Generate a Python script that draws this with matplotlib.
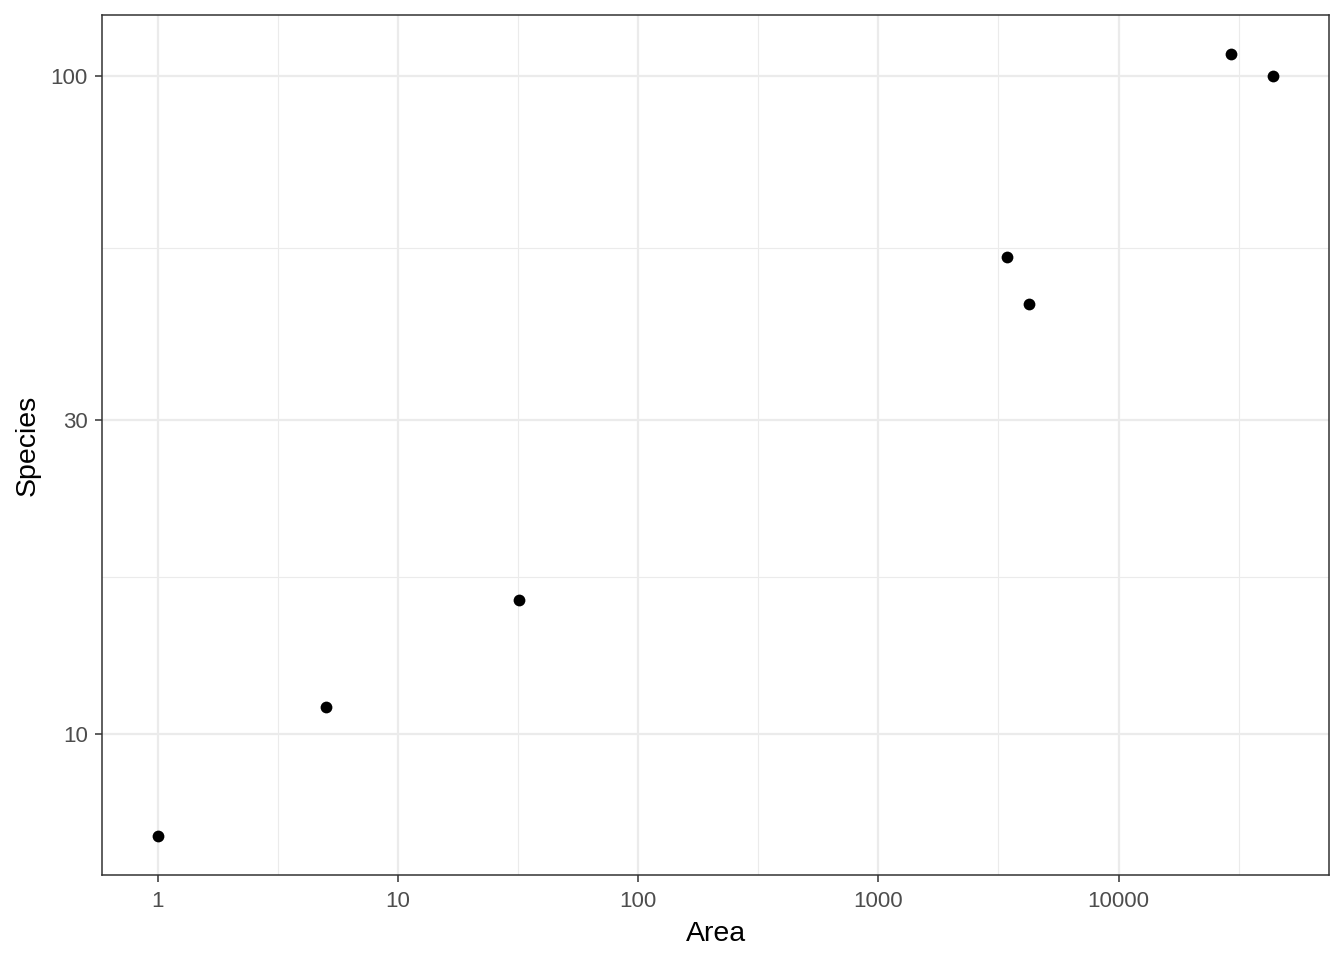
import matplotlib
matplotlib.use("Agg")
import matplotlib.pyplot as plt
import numpy as np

plt.rcParams["font.family"] = ["Liberation Sans", "DejaVu Sans"]

area = [1, 5, 32, 3444, 4254, 29450, 44060]
species = [7, 11, 16, 53, 45, 108, 100]
x_ticks = [1, 10, 100, 1000, 10000]
x_labels = ["1", "10", "100", "1000", "10000"]
y_ticks = [10, 30, 100]
y_labels = ["10", "30", "100"]

fig = plt.figure(figsize=(13.44, 9.6), dpi=100)
ax = fig.add_axes([102/1344, 1 - 875/960, (1329-102)/1344, (875-15)/960])
ax.set_xscale("log")
ax.set_yscale("log")

lx = np.log10(area); ly = np.log10(species)
ex = (lx.max() - lx.min()) * 0.05
ey = (ly.max() - ly.min()) * 0.05
ax.set_xlim(10**(lx.min() - ex), 10**(lx.max() + ex))
ax.set_ylim(10**(ly.min() - ey), 10**(ly.max() + ey))

# minor gridlines at log-midpoints between major breaks
lxt = np.log10(x_ticks); lyt = np.log10(y_ticks)
xminor = [10**((a + b) / 2) for a, b in zip(lxt[:-1], lxt[1:])]
xminor += [10**(lxt[-1] + 0.5)]
yminor = [10**((a + b) / 2) for a, b in zip(lyt[:-1], lyt[1:])]
for v in xminor:
    ax.axvline(v, color="#EBEBEB", lw=0.8, zorder=0)
for v in yminor:
    ax.axhline(v, color="#EBEBEB", lw=0.8, zorder=0)
for v in x_ticks:
    ax.axvline(v, color="#EBEBEB", lw=1.6, zorder=0)
for v in y_ticks:
    ax.axhline(v, color="#EBEBEB", lw=1.6, zorder=0)

ax.scatter(area, species, s=72, color="black", zorder=3, linewidths=0)

ax.set_xticks(x_ticks)
ax.set_xticklabels(x_labels)
ax.set_yticks(y_ticks)
ax.set_yticklabels(y_labels)
ax.xaxis.set_minor_locator(matplotlib.ticker.NullLocator())
ax.yaxis.set_minor_locator(matplotlib.ticker.NullLocator())
ax.tick_params(axis="both", length=5.2, width=1.1, color="#333333",
               labelcolor="#4D4D4D", labelsize=16)
ax.tick_params(axis="x", pad=6)
ax.tick_params(axis="y", pad=5)
for s in ax.spines.values():
    s.set_color("#333333")
    s.set_linewidth(1.1)
ax.set_xlabel("Area", fontsize=20.5, color="black", labelpad=7)
ax.set_ylabel("Species", fontsize=20.5, color="black", labelpad=7)

fig.savefig("out.png", dpi=100, facecolor="white")
